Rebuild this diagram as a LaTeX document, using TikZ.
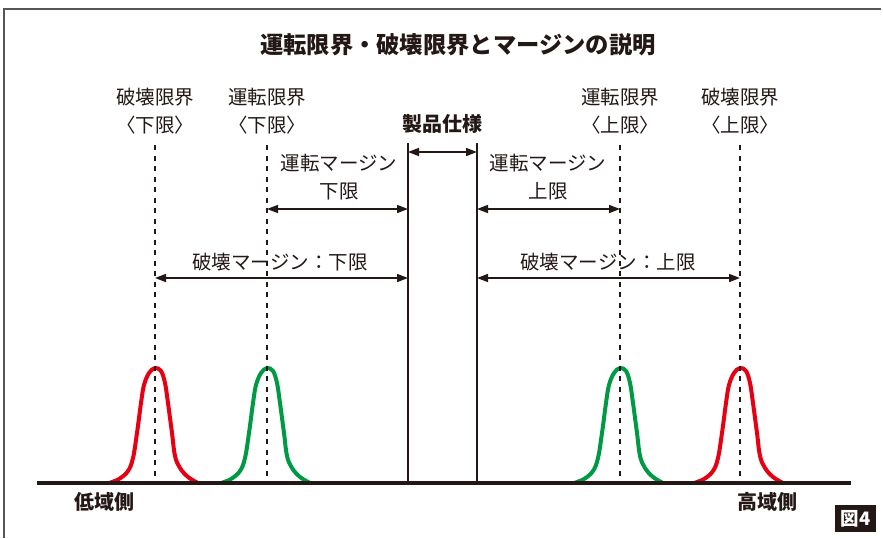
\documentclass[tikz,border=0pt]{standalone}
\usepackage{fontspec}
\setmainfont{Noto Sans CJK JP}
\usetikzlibrary{arrows.meta}
\definecolor{ink}{RGB}{35,24,21}
\definecolor{frameink}{RGB}{90,85,85}
\definecolor{peakred}{RGB}{230,0,18}
\definecolor{peakgreen}{RGB}{0,153,68}
\begin{document}
\begin{tikzpicture}[x=1pt,y=-1pt,
  lbl/.style={font=\fontsize{19.5}{21}\selectfont, text=ink, inner sep=0pt},
  boldlbl/.style={font=\fontsize{20}{22}\selectfont\bfseries, text=ink, inner sep=0pt},
  titlelbl/.style={font=\fontsize{23.3}{25}\selectfont\bfseries, text=ink, inner sep=0pt},
  guide/.style={draw=ink, line width=1.1pt, dash pattern=on 5pt off 5.5pt},
  pillar/.style={draw=ink, line width=2pt},
  dim/.style={draw=ink, line width=1.6pt, {Triangle[length=11pt,width=8pt]}-{Triangle[length=11pt,width=8pt]}},
  peak/.style={line width=4pt, line join=round, line cap=round},
  axisline/.style={draw=ink, line width=4pt}
]
\useasboundingbox (0,0) rectangle (883,538);
% frame
\coordinate (frBL) at (4,538);
\coordinate (frTL) at (4,9);
\coordinate (frTR) at (881,9);
\draw[frameink, line width=1.5pt] (frBL) -- (frTL) -- (frTR);

% title
\node[titlelbl] (title) at (458,45) {運転限界・破壊限界とマージンの説明};

% top labels
\node[lbl] (dlA) at (155,97) {破壊限界};
\node[lbl] (dlB) at (155,125) {〈下限〉};
\node[lbl] (olA) at (267,97) {運転限界};
\node[lbl] (olB) at (267,125) {〈下限〉};
\node[lbl] (ouA) at (620,97) {運転限界};
\node[lbl] (ouB) at (620,125) {〈上限〉};
\node[lbl] (duA) at (740,97) {破壊限界};
\node[lbl] (duB) at (740,125) {〈上限〉};
\node[boldlbl] (spec) at (442,124) {製品仕様};

% peaks
\foreach \cx/\col in {155/peakred, 267/peakgreen, 620/peakgreen, 740/peakred}{
  \draw[peak, \col, shift={(\cx,483)}] plot[smooth, tension=0.6] coordinates
   {(-46,0) (-36,-4) (-27,-12) (-22,-25) (-18,-50) (-14,-80) (-11,-98) (-6,-110) (0,-115) (6,-112) (10,-100) (13,-80) (17,-50) (20,-27) (25,-15) (33,-6) (43,0)};
}

% dashed guides
\foreach \n/\gx in {dl/155, ol/267, ou/620, du/740}{
  \coordinate (\n top) at (\gx,145);
  \coordinate (\n bot) at (\gx,483);
  \draw[guide] (\n top) -- (\n bot);
}

% pillars
\coordinate (pLtop) at (408,143);
\coordinate (pLbot) at (408,483);
\coordinate (pRtop) at (477,143);
\coordinate (pRbot) at (477,483);
\draw[pillar] (pLtop) -- (pLbot);
\draw[pillar] (pRtop) -- (pRbot);

% baseline
\coordinate (axL) at (37,483);
\coordinate (axR) at (851,483);
\draw[axisline] (axL) -- (axR);

% spec arrow
\coordinate (specL) at (408,152);
\coordinate (specR) at (477,152);
\draw[dim] (specL) -- (specR);

% operating margins
\node[lbl] (omlA) at (339,163) {運転マージン};
\node[lbl] (omlB) at (339,191) {下限};
\coordinate (omlL) at (267,209);
\coordinate (omlR) at (408,209);
\draw[dim] (omlL) -- (omlR);

\node[lbl] (omuA) at (548,163) {運転マージン};
\node[lbl] (omuB) at (548,191) {上限};
\coordinate (omuL) at (477,209);
\coordinate (omuR) at (620,209);
\draw[dim] (omuL) -- (omuR);

% destruction margins
\node[lbl] (dml) at (280,262) {破壊マージン：下限};
\coordinate (dmlL) at (155,278);
\coordinate (dmlR) at (408,278);
\draw[dim] (dmlL) -- (dmlR);

\node[lbl] (dmu) at (608,262) {破壊マージン：上限};
\coordinate (dmuL) at (477,278);
\coordinate (dmuR) at (740,278);
\draw[dim] (dmuL) -- (dmuR);

% side labels
\node[boldlbl] (low) at (104,502) {低域側};
\node[boldlbl] (high) at (767,502) {高域側};

% figure tag
\node[fill=ink, text=white, font=\fontsize{18.5}{19}\selectfont\bfseries, minimum width=41pt, minimum height=27pt, inner sep=0pt] (fig) at (855.5,518.5) {図4};
\end{tikzpicture}
\end{document}
